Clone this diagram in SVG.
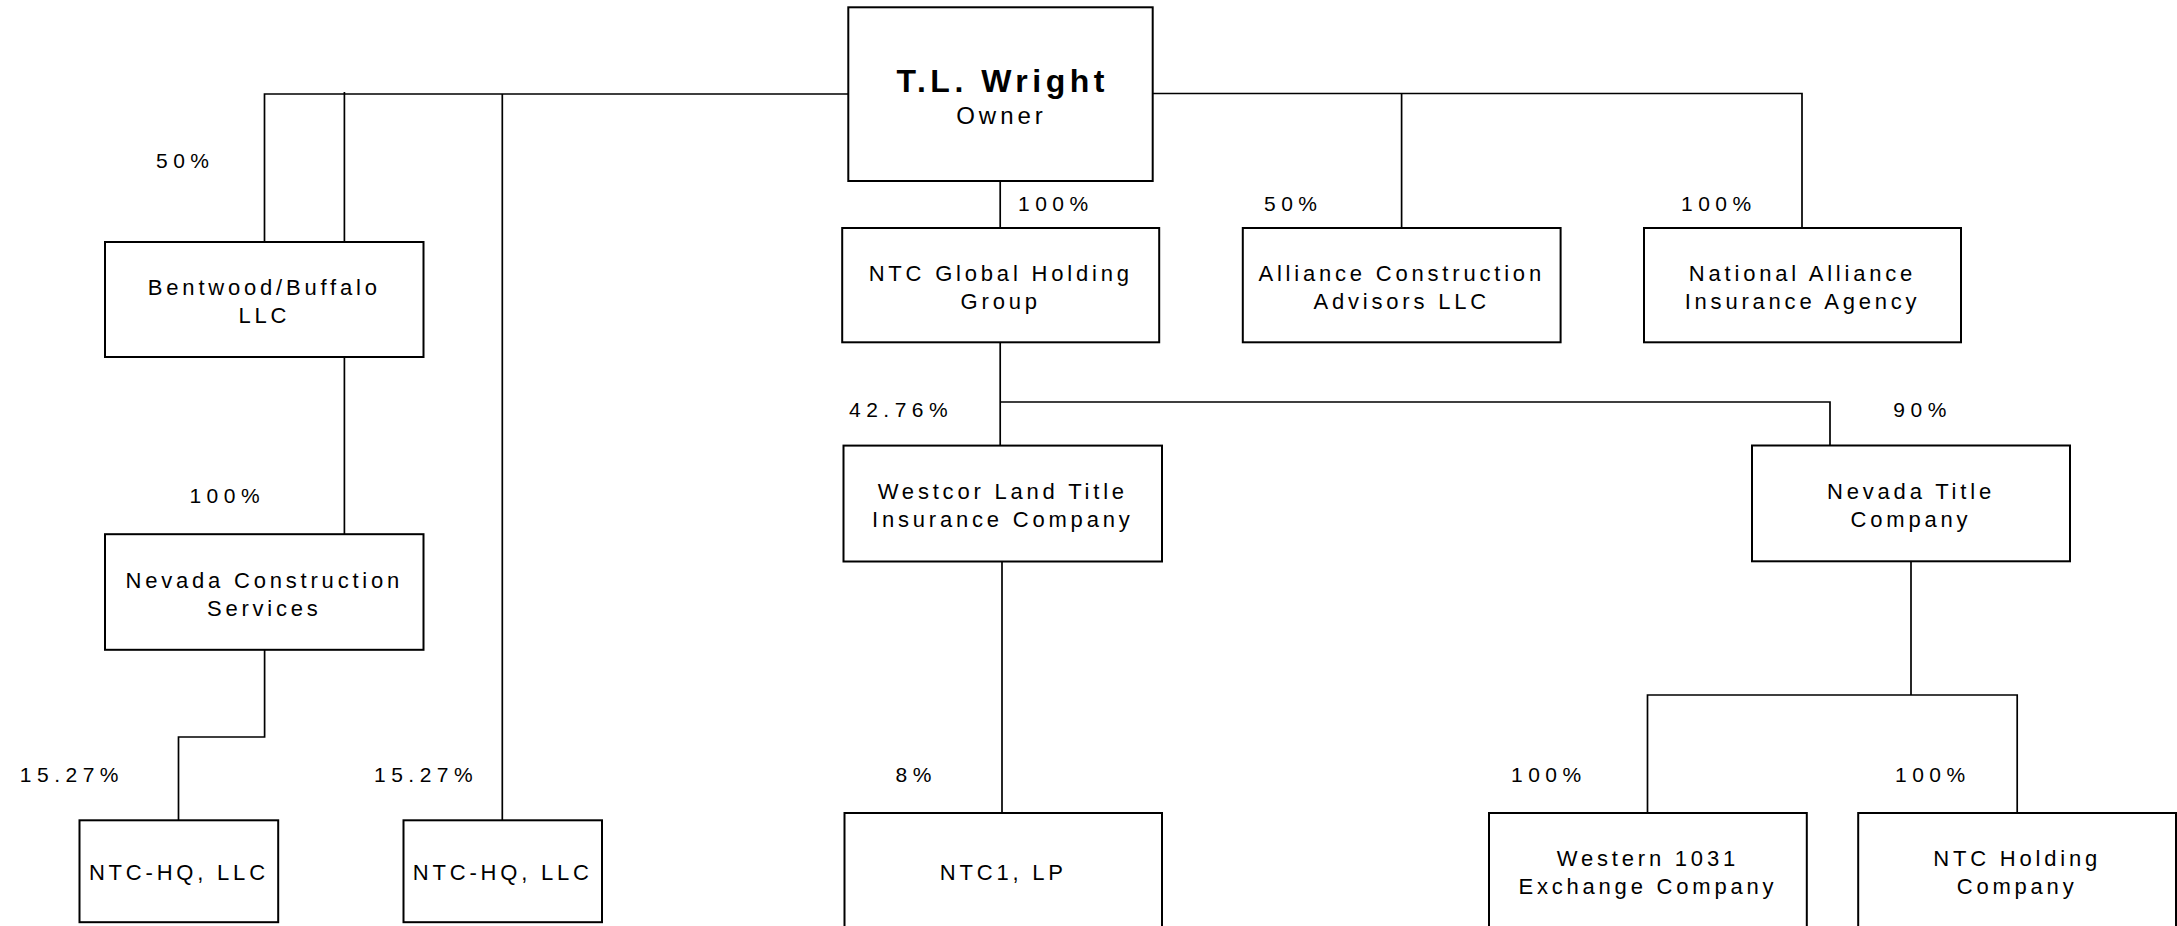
<svg xmlns="http://www.w3.org/2000/svg" width="2177" height="926" viewBox="0 0 2177 926">
<style>
.box{fill:#fff;stroke:#000;stroke-width:2}
.con{fill:none;stroke:#000;stroke-width:1.7}
.t{font-family:"Liberation Sans",Arial,sans-serif;font-size:22px;letter-spacing:3.8px;text-anchor:middle;fill:#000}
.p{font-family:"Liberation Sans",Arial,sans-serif;font-size:21px;letter-spacing:5.5px;fill:#000}
.title{font-family:"Liberation Sans",Arial,sans-serif;font-size:32px;font-weight:bold;letter-spacing:4.5px;text-anchor:middle;fill:#000}
.sub{font-family:"Liberation Sans",Arial,sans-serif;font-size:24px;letter-spacing:4px;text-anchor:middle;fill:#000}
</style>
<rect width="2177" height="926" fill="#fff"/>
<g id="connectors">
<path class="con" d="M848,94 H264.5 V242"/>
<path class="con" d="M344.4,92 V242"/>
<path class="con" d="M502.3,94 V820"/>
<path class="con" d="M344.4,357 V534"/>
<path class="con" d="M264.6,650 V737 H178.5 V820"/>
<path class="con" d="M1153,93.5 H1802 V228"/>
<path class="con" d="M1401.6,93.5 V228"/>
<path class="con" d="M1000.2,181 V228"/>
<path class="con" d="M1000.2,342 V445.6"/>
<path class="con" d="M1000.2,402 H1830 V445.5"/>
<path class="con" d="M1002,561.5 V813"/>
<path class="con" d="M1911,561 V695"/>
<path class="con" d="M1647.5,813 V695 H2017.2 V813"/>
</g>
<g id="labels">
<text class="p" x="156" y="168">50%</text>
<text class="p" x="1018" y="210.7">100%</text>
<text class="p" x="1264" y="210.7">50%</text>
<text class="p" x="1681" y="210.7">100%</text>
<text class="p" x="189.4" y="502.6">100%</text>
<text class="p" x="849" y="416.7">42.76%</text>
<text class="p" x="1893.3" y="416.5">90%</text>
<text class="p" x="19.8" y="781.7">15.27%</text>
<text class="p" x="374" y="781.7">15.27%</text>
<text class="p" x="895.5" y="781.7">8%</text>
<text class="p" x="1511" y="781.7">100%</text>
<text class="p" x="1895" y="781.7">100%</text>
</g>
<g id="owner">
<rect class="box" x="848.3" y="7.3" width="304.4" height="173.7"/>
<text class="title" x="1002.7" y="91.7">T.L. Wright</text>
<text class="sub" x="1001.5" y="124.3">Owner</text>
</g>
<g id="ntc-global">
<rect class="box" x="842.2" y="228" width="317" height="114.3"/>
<text class="t" x="1000.7" y="280.5">NTC Global Holding</text>
<text class="t" x="1000.7" y="308.5">Group</text>
</g>
<g id="alliance-construction">
<rect class="box" x="1242.8" y="228" width="317.8" height="114.3"/>
<text class="t" x="1401.7" y="280.5">Alliance Construction</text>
<text class="t" x="1401.7" y="308.5">Advisors LLC</text>
</g>
<g id="national-alliance">
<rect class="box" x="1644" y="228" width="317" height="114.3"/>
<text class="t" x="1802.5" y="280.5">National Alliance</text>
<text class="t" x="1802.5" y="308.5">Insurance Agency</text>
</g>
<g id="bentwood">
<rect class="box" x="105" y="242" width="318.5" height="115"/>
<text class="t" x="264.3" y="295">Bentwood/Buffalo</text>
<text class="t" x="264.3" y="323">LLC</text>
</g>
<g id="nevada-construction">
<rect class="box" x="105" y="534.2" width="318.5" height="115.6"/>
<text class="t" x="264.3" y="587.5">Nevada Construction</text>
<text class="t" x="264.3" y="615.5">Services</text>
</g>
<g id="ntc-hq-1">
<rect class="box" x="79.5" y="820.3" width="198.7" height="101.9"/>
<text class="t" x="178.9" y="880">NTC-HQ, LLC</text>
</g>
<g id="ntc-hq-2">
<rect class="box" x="403.5" y="820.3" width="198.5" height="101.9"/>
<text class="t" x="502.8" y="880">NTC-HQ, LLC</text>
</g>
<g id="westcor">
<rect class="box" x="843.5" y="445.6" width="318.5" height="115.9"/>
<text class="t" x="1002.8" y="499.3">Westcor Land Title</text>
<text class="t" x="1002.8" y="527.3">Insurance Company</text>
</g>
<g id="nevada-title">
<rect class="box" x="1752" y="445.5" width="318" height="115.8"/>
<text class="t" x="1911" y="499.3">Nevada Title</text>
<text class="t" x="1911" y="527.3">Company</text>
</g>
<g id="ntc1">
<rect class="box" x="844.5" y="813" width="317.5" height="116"/>
<text class="t" x="1003.3" y="880">NTC1, LP</text>
</g>
<g id="western-1031">
<rect class="box" x="1489" y="813" width="317.8" height="116"/>
<text class="t" x="1647.9" y="866">Western 1031</text>
<text class="t" x="1647.9" y="894">Exchange Company</text>
</g>
<g id="ntc-holding">
<rect class="box" x="1858.2" y="813" width="317.8" height="116"/>
<text class="t" x="2017.1" y="866">NTC Holding</text>
<text class="t" x="2017.1" y="894">Company</text>
</g>
</svg>
